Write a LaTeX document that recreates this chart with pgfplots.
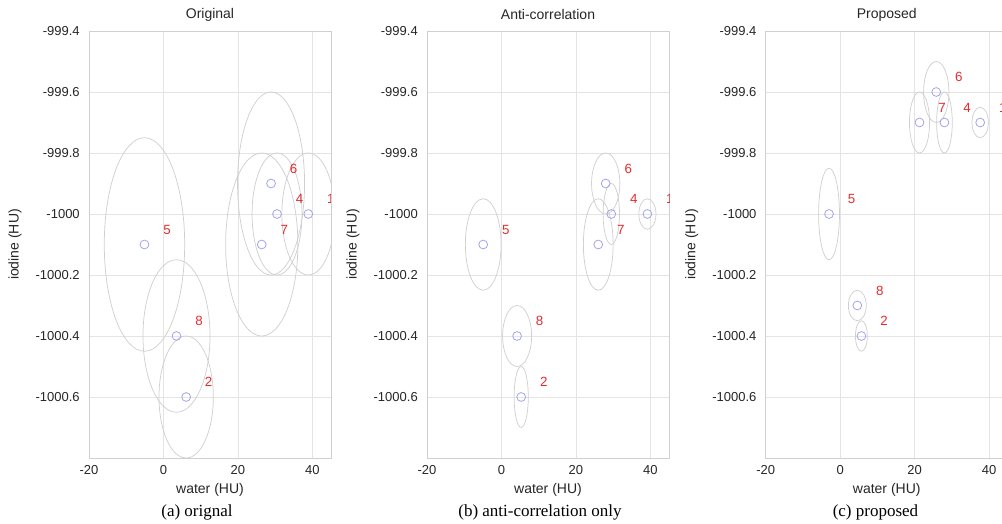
\documentclass[border=0pt]{standalone}
\usepackage{fontspec}
\setmainfont{Liberation Sans}
\newfontfamily\capfont{Liberation Serif}
\usepackage{pgfplots}
\usepackage{pgfplotstable}
\pgfplotsset{compat=1.18}

\definecolor{gridcol}{HTML}{E4E4E4}
\definecolor{boxcol}{HTML}{D0D0D0}
\definecolor{ellcol}{HTML}{CFCFCF}
\definecolor{ptcol}{HTML}{A0A4EE}
\definecolor{labred}{HTML}{E52B2B}

% material centres (water, iodine) and half-widths of the spread ellipses
\pgfplotstableread{
id x y rx ry
1 38.9 -1000.0 7.1 0.20
2 6.1 -1000.6 7.3 0.20
4 30.5 -1000.0 6.7 0.20
5 -5.1 -1000.1 10.8 0.35
6 28.9 -999.9 9.0 0.30
7 26.4 -1000.1 9.7 0.30
8 3.5 -1000.4 9.0 0.25
}\orig

\pgfplotstableread{
id x y rx ry
1 39.2 -1000.0 2.3 0.05
2 5.3 -1000.6 1.9 0.10
4 29.5 -1000.0 2.2 0.10
5 -4.9 -1000.1 4.8 0.15
6 28.0 -999.9 3.8 0.10
7 26.0 -1000.1 4.0 0.15
8 4.2 -1000.4 3.9 0.10
}\anticorr

\pgfplotstableread{
id x y rx ry
1 37.6 -999.7 2.2 0.05
2 5.7 -1000.4 1.6 0.05
4 28.0 -999.7 2.1 0.10
5 -3.0 -1000.0 2.8 0.15
6 25.8 -999.6 3.4 0.10
7 21.3 -999.7 2.7 0.10
8 4.6 -1000.3 2.4 0.05
}\proposed

% axis units: 181.5pt / 65 HU and 320.25pt / 1.4 HU
\pgfdeclareplotmark{ellip}{%
  \pgfpathellipse{\pgfpointorigin}{\pgfpoint{\rx*2.7923pt}{0pt}}{\pgfpoint{0pt}{\ry*228.75pt}}%
  \pgfusepathqstroke}

\pgfplotsset{
  panel/.style={
    scale only axis, width=181.5pt, height=320.25pt, anchor=south west,
    xmin=-20, xmax=45, ymin=-1000.8, ymax=-999.4,
    xtick={-20,0,20,40}, xticklabels={-20,0,20,40},
    ytick={-1000.6,-1000.4,-1000.2,-1000,-999.8,-999.6,-999.4},
    yticklabels={-1000.6,-1000.4,-1000.2,-1000,-999.8,-999.6,-999.4},
    grid=major, major grid style={gridcol, line width=0.5pt},
    axis line style={boxcol, line width=0.6pt},
    major tick length=0pt,
    tick label style={font=\fontsize{9.75}{11}\selectfont, text=black!85},
    xticklabel style={anchor=center, yshift=-9pt},
    yticklabel style={anchor=east, inner sep=0pt, xshift=-6.75pt},
    label style={font=\fontsize{10.5}{12}\selectfont, text=black!85},
    xlabel={water (HU)}, ylabel={iodine (HU)},
    xlabel style={at={(axis description cs:0.5,-0.075)}, anchor=center},
    ylabel style={at={(axis description cs:-0.306,0.5)}, anchor=center},
    every axis title shift=0pt,
    title style={at={(axis description cs:0.5,1.0375)}, anchor=center,
      font=\fontsize{10.5}{12}\selectfont, text=black!85},
    clip marker paths=true,
  },
  ellipses/.style={only marks, mark=ellip, ellcol, line width=0.55pt,
    visualization depends on={\thisrow{rx}\as\rx},
    visualization depends on={\thisrow{ry}\as\ry}},
  centres/.style={only marks, mark=o, mark size=3.3pt,
    mark options={ptcol, line width=0.6pt},
    point meta=explicit symbolic, nodes near coords,
    nodes near coords style={font=\fontsize{10}{12}\selectfont, text=labred,
      anchor=center, xshift=16.9pt, yshift=11.25pt}},
}

\begin{document}
\begin{tikzpicture}
\path[use as bounding box] (0,0) rectangle (751.5pt,393pt);
\clip (0,0) rectangle (751.5pt,393pt);

\begin{axis}[panel, at={(66.75pt,49.5pt)}, title={Original}]
  \addplot[ellipses] table[x=x, y=y] {\orig};
  \addplot[centres] table[x=x, y=y, meta=id] {\orig};
\end{axis}

\begin{axis}[panel, at={(320.25pt,49.5pt)}, title={Anti-correlation}]
  \addplot[ellipses] table[x=x, y=y] {\anticorr};
  \addplot[centres] table[x=x, y=y, meta=id] {\anticorr};
\end{axis}

\begin{axis}[panel, at={(574.3pt,49.5pt)}, title={Proposed}]
  \addplot[ellipses] table[x=x, y=y] {\proposed};
  \addplot[centres] table[x=x, y=y, meta=id] {\proposed};
\end{axis}

\node[font=\capfont\fontsize{12.75}{14}\selectfont] at (147.75pt,9pt) {(a) orignal};
\node[font=\capfont\fontsize{12.75}{14}\selectfont] at (405pt,9pt) {(b) anti-correlation only};
\node[font=\capfont\fontsize{12.75}{14}\selectfont] at (656.6pt,9pt) {(c) proposed};
\end{tikzpicture}
\end{document}
